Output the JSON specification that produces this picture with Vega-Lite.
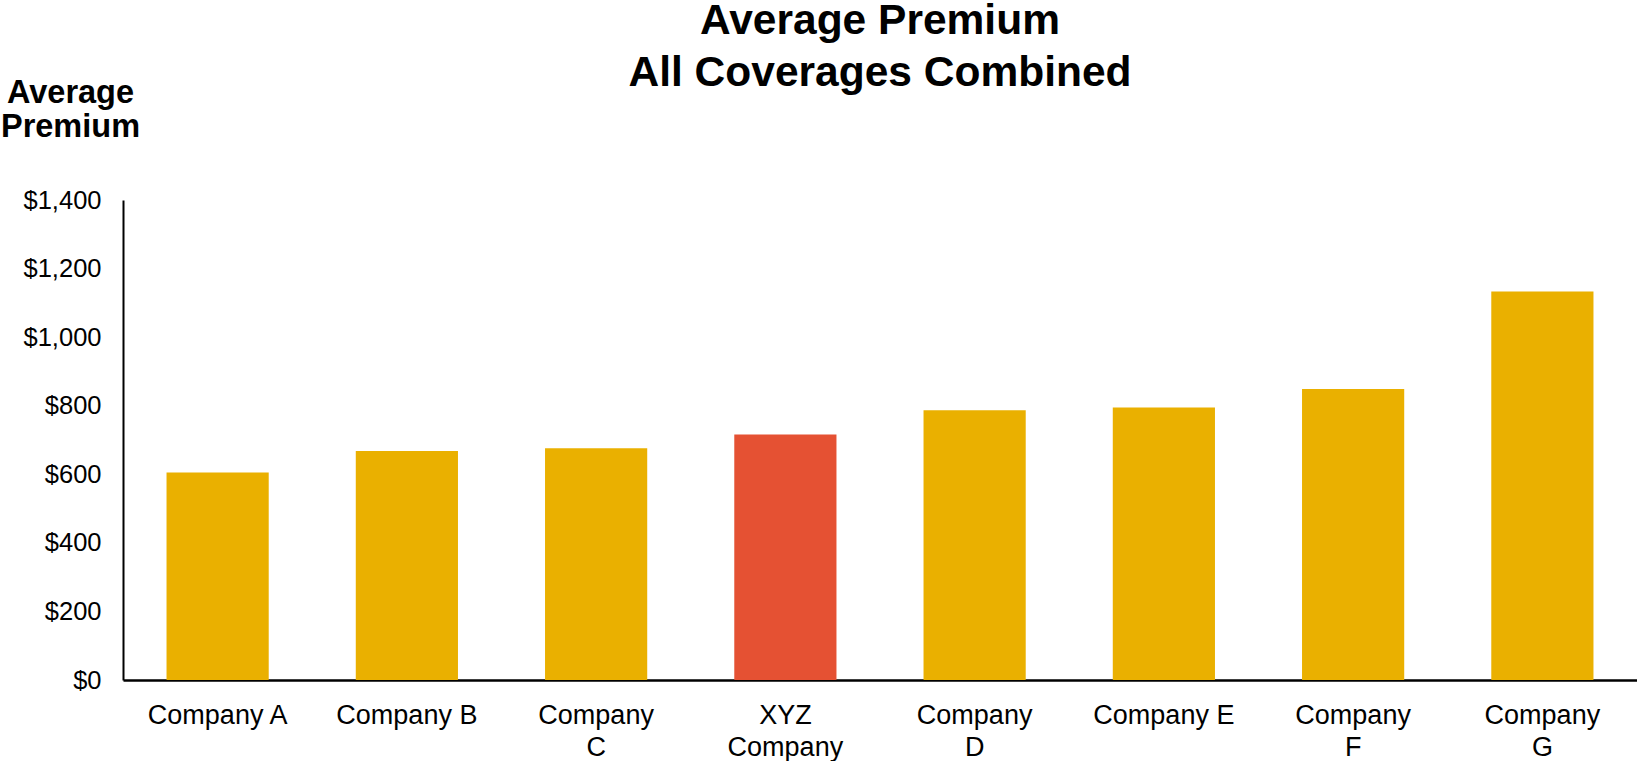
{
  "$schema": "https://vega.github.io/schema/vega-lite/v6.json",
  "autosize": {"type": "none"},
  "padding": {"left": 123, "top": 200, "right": 0, "bottom": 81},
  "width": 1514,
  "height": 480,
  "background": "white",
  "title": {
    "text": ["Average Premium", "All Coverages Combined"],
    "anchor": "middle",
    "frame": "group",
    "font": "Liberation Sans",
    "fontSize": 42.5,
    "fontWeight": "bold",
    "color": "black",
    "lineHeight": 52,
    "baseline": "alphabetic",
    "offset": 0,
    "dy": 52
  },
  "data": {
    "values": [
      {"company": "Company A", "premium": 605, "group": "Competitor"},
      {"company": "Company B", "premium": 668, "group": "Competitor"},
      {"company": "Company|C", "premium": 676, "group": "Competitor"},
      {"company": "XYZ|Company", "premium": 716, "group": "XYZ"},
      {"company": "Company|D", "premium": 787, "group": "Competitor"},
      {"company": "Company E", "premium": 795, "group": "Competitor"},
      {"company": "Company|F", "premium": 849, "group": "Competitor"},
      {"company": "Company|G", "premium": 1133, "group": "Competitor"}
    ]
  },
  "mark": {"type": "bar"},
  "encoding": {
    "x": {
      "field": "company",
      "type": "nominal",
      "sort": null,
      "scale": {"paddingInner": 0.46, "paddingOuter": 0.23},
      "axis": {
        "title": null,
        "labelAngle": 0,
        "labelExpr": "split(datum.value, '|')",
        "labelFont": "Liberation Sans",
        "labelFontSize": 27,
        "labelColor": "black",
        "labelLineHeight": 32,
        "labelBaseline": "top",
        "labelPadding": 22,
        "labelLimit": 300,
        "ticks": false,
        "domainColor": "black",
        "domainWidth": 2.5
      }
    },
    "y": {
      "field": "premium",
      "type": "quantitative",
      "scale": {"domain": [0, 1400], "nice": false},
      "axis": {
        "values": [0, 200, 400, 600, 800, 1000, 1200, 1400],
        "format": "$,.0f",
        "grid": false,
        "ticks": false,
        "labelFont": "Liberation Sans",
        "labelFontSize": 25.5,
        "labelColor": "black",
        "labelPadding": 22,
        "domainColor": "black",
        "domainWidth": 2,
        "title": ["Average", "Premium"],
        "titleFont": "Liberation Sans",
        "titleFontSize": 32.5,
        "titleFontWeight": "bold",
        "titleColor": "black",
        "titleAngle": 0,
        "titleAlign": "center",
        "titleBaseline": "alphabetic",
        "titleLineHeight": 34,
        "titleX": -53,
        "titleY": -98
      }
    },
    "color": {
      "field": "group",
      "type": "nominal",
      "scale": {"domain": ["Competitor", "XYZ"], "range": ["#EAB000", "#E55133"]},
      "legend": null
    }
  },
  "config": {"view": {"stroke": null}}
}
